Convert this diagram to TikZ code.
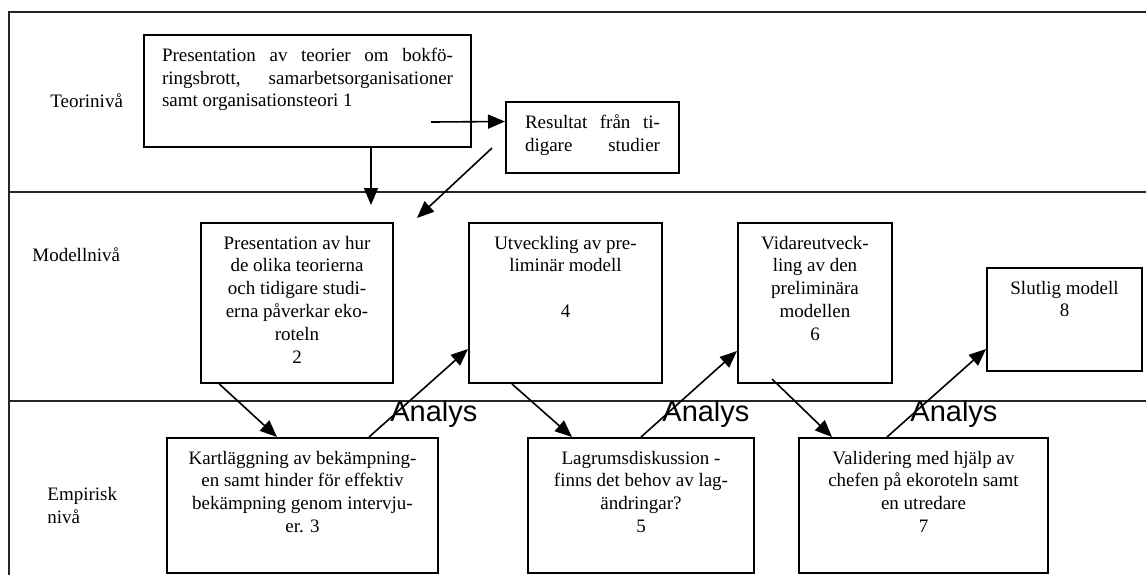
\documentclass[tikz,border=0pt]{standalone}
\usepackage{fontspec}
\setmainfont{Liberation Serif}
\newfontfamily\analysfont{Liberation Sans}
\usetikzlibrary{arrows.meta}

% text block inside a box: width and height of the whole box
\newcommand{\inbox}[3]{\parbox[c][\dimexpr#2-13pt\relax][t]{\dimexpr#1-10pt\relax}{\centering #3}}

\begin{document}
\begin{tikzpicture}[
    x=0.5pt, y=-0.5pt,
    frame/.style={line width=0.9pt, black!85},
    box/.style={
      draw=black,
      line width=1pt,
      inner xsep=5pt,
      inner ysep=6.5pt,
      font=\fontsize{9.5}{11.4}\selectfont
    },
    level/.style={font=\fontsize{9.5}{11.4}\selectfont, inner sep=0pt},
    analys/.style={font=\analysfont\fontsize{14.5}{16}\selectfont, inner sep=0pt},
    arr/.style={-{Triangle[length=8.5pt,width=7pt]}, line width=0.8pt}
  ]
  \useasboundingbox (0,0) rectangle (1146,575);

  % levels
  \draw[frame] (1146,12) -- (9,12) -- (9,575);
  \draw[frame] (9,192) -- (1146,192);
  \draw[frame] (9,401) -- (1146,401);

  \node[level, anchor=base west] (teori) at (50,107) {Teorinivå};
  \node[level, anchor=base west] (modell) at (32,261) {Modellnivå};
  \node[level, anchor=west, align=left] (empiri) at (47,505.5) {Empirisk\\nivå};

  % theory level
  \node[box, inner xsep=9pt] (b1) at (307.5,91) {\parbox[c][43pt][t]{145.5pt}{%
      \makebox[\linewidth][s]{Presentation av teorier om bokfö-}\\
      \makebox[\linewidth][s]{ringsbrott, samarbetsorganisationer}\\
      samt organisationsteori 1}};
  \node[box, inner xsep=9.5pt] (res) at (592.5,137.5) {\parbox[c][22.5pt][t]{67.5pt}{%
      \makebox[\linewidth][s]{Resultat från ti-}\\
      \makebox[\linewidth][s]{digare studier}}};

  % model level
  \node[box] (b2) at (297,303) {\inbox{96pt}{80pt}{Presentation av hur\\de olika teorierna\\och tidigare studi-\\erna påverkar eko-\\roteln\\2}};
  \node[box] (b4) at (565.5,303) {\inbox{96.5pt}{80pt}{Utveckling av pre-\\liminär modell\\[11.4pt]4}};
  \node[box] (b6) at (815,303) {\inbox{77pt}{80pt}{Vidareutveck-\\ling av den\\preliminära\\modellen\\6}};
  \node[box] (b8) at (1064.5,319.5) {\inbox{77.5pt}{51.5pt}{Slutlig modell\\8}};

  % empirical level
  \node[box] (b3) at (302.5,505.5) {\inbox{135.5pt}{67.5pt}{Kartläggning av bekämpning-\\en samt hinder för effektiv\\bekämpning genom intervju-\\er. 3}};
  \node[box] (b5) at (641,505.5) {\inbox{113pt}{67.5pt}{Lagrumsdiskussion -\\finns det behov av lag-\\ändringar?\\5}};
  \node[box] (b7) at (923.5,505.5) {\inbox{124.5pt}{67.5pt}{Validering med hjälp av\\chefen på ekoroteln samt\\en utredare\\7}};

  \node[analys, anchor=base west] (an1) at (390,421) {Analys};
  \node[analys, anchor=base west] (an2) at (662,421) {Analys};
  \node[analys, anchor=base west] (an3) at (910,421) {Analys};

  % arrows
  \coordinate (m1) at (371,205);
  \coordinate (m2) at (417,218);
  \draw[arr] ([xshift=-20.5pt,yshift=13pt]b1.south east) -- ([yshift=8pt]res.west);
  \draw[arr] (m1 |- b1.south) -- (m1);
  \draw[arr] ([xshift=-6.5pt,yshift=13pt]res.south west) -- (m2);

  \draw[arr] ([xshift=9.65pt]b2.south west) -- ([xshift=55.5pt]b3.north west);
  \draw[arr] ([xshift=101.5pt]b3.north west) -- ([yshift=17.5pt]b4.south west);
  \draw[arr] ([xshift=22pt]b4.south west) -- ([xshift=22.5pt]b5.north west);
  \draw[arr] (b5.north) -- ([yshift=16.5pt]b6.south west);
  \draw[arr] ([xshift=17.5pt,yshift=2.5pt]b6.south west) -- ([xshift=17pt]b7.north west);
  \draw[arr] ([xshift=44.5pt]b7.north west) -- ([yshift=11.5pt]b8.south west);
\end{tikzpicture}
\end{document}
